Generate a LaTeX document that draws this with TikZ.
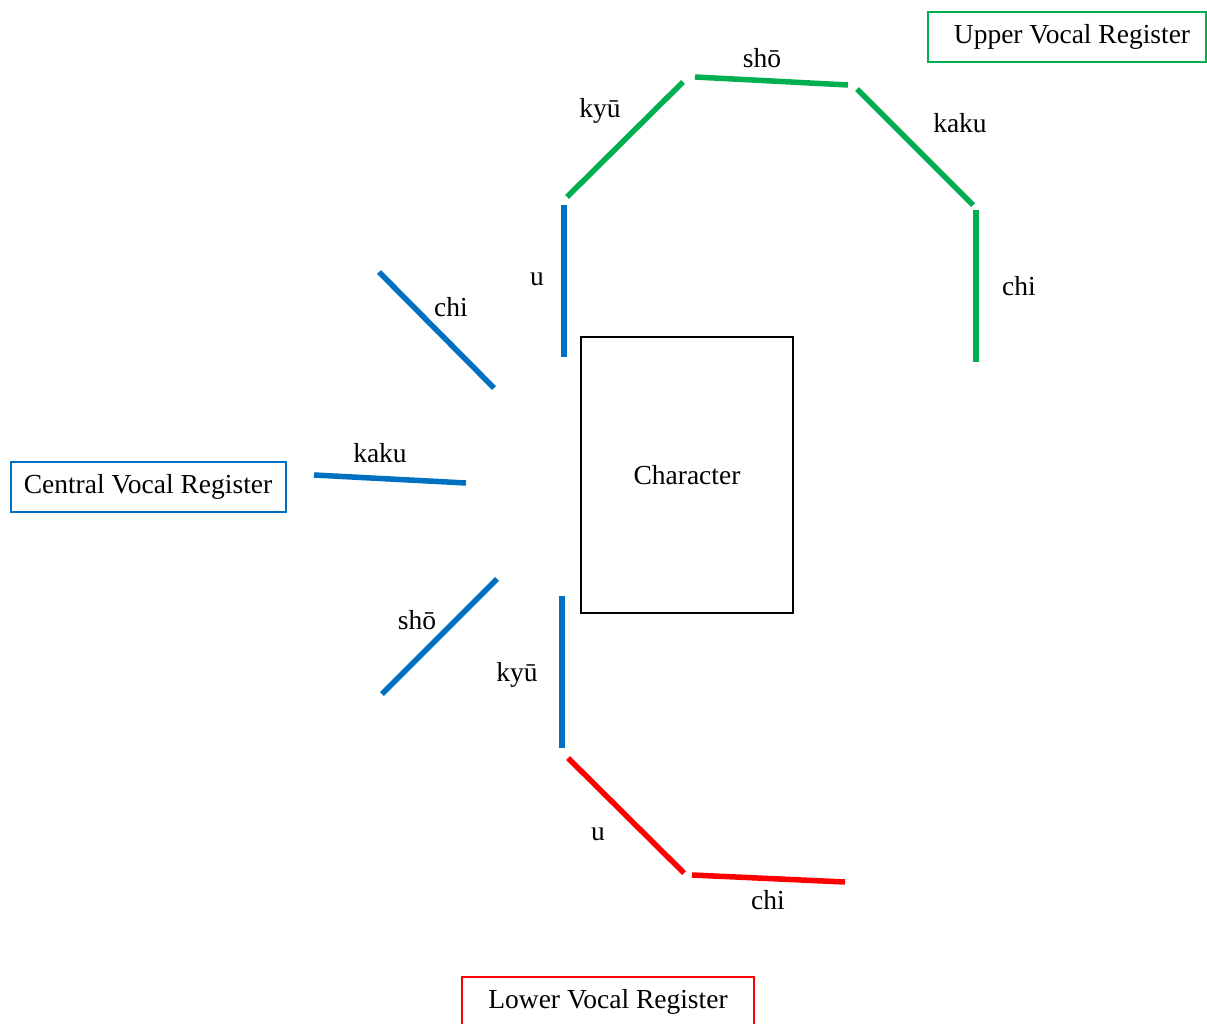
\documentclass[tikz,border=0pt]{standalone}
\usepackage{fontspec}
\setmainfont{Liberation Serif}
\definecolor{cgreen}{HTML}{00B050}
\definecolor{cblue}{HTML}{0070C0}
\definecolor{cred}{HTML}{FF0000}
\begin{document}
\begin{tikzpicture}[x=1pt,y=-1pt,
  seg/.style={line width=5.5pt},
  lbl/.style={font=\fontsize{27.5}{32}\selectfont, inner sep=0pt},
  regbox/.style={line width=1.5pt},
]
\useasboundingbox[fill=white] (0,0) rectangle (1207,1024);
% register boxes
\draw[regbox,cgreen] (928,12) rectangle (1206,62);
\node[lbl] (upper) at (1072,37) {Upper Vocal Register};
\draw[regbox,cblue] (11,462) rectangle (286,512);
\node[lbl] (central) at (148,487) {Central Vocal Register};
\draw[regbox,cred] (462,977) rectangle (754,1035);
\node[lbl] (lower) at (608,1002) {Lower Vocal Register};
% character
\draw[line width=1.5pt] (581,337) rectangle (793,613);
\node[lbl] (char) at (687,475) {Character};
% green segments
\draw[seg,cgreen] (567,197) -- (683,82);
\draw[seg,cgreen] (695,77) -- (848,85);
\draw[seg,cgreen] (857,89) -- (973,205);
\draw[seg,cgreen] (976,210) -- (976,362);
% blue segments
\draw[seg,cblue] (564,205) -- (564,357);
\draw[seg,cblue] (379,272) -- (494,388);
\draw[seg,cblue] (314,475) -- (466,483);
\draw[seg,cblue] (497,579) -- (382,694);
\draw[seg,cblue] (562,596) -- (562,748);
% red segments
\draw[seg,cred] (568,758) -- (684,873);
\draw[seg,cred] (692,875) -- (845,882);
% labels
\node[lbl] (gsho) at (762,58) {shō};
\node[lbl] (gkyu) at (600,111) {kyū};
\node[lbl] (gkaku) at (960,123) {kaku};
\node[lbl] (gchi) at (1019,286) {chi};
\node[lbl] (bu) at (537,279) {u};
\node[lbl] (bchi) at (451,307) {chi};
\node[lbl] (bkaku) at (380,453) {kaku};
\node[lbl] (bsho) at (417,620) {shō};
\node[lbl] (bkyu) at (517,675) {kyū};
\node[lbl] (ru) at (598,834) {u};
\node[lbl] (rchi) at (768,900) {chi};
\end{tikzpicture}
\end{document}
